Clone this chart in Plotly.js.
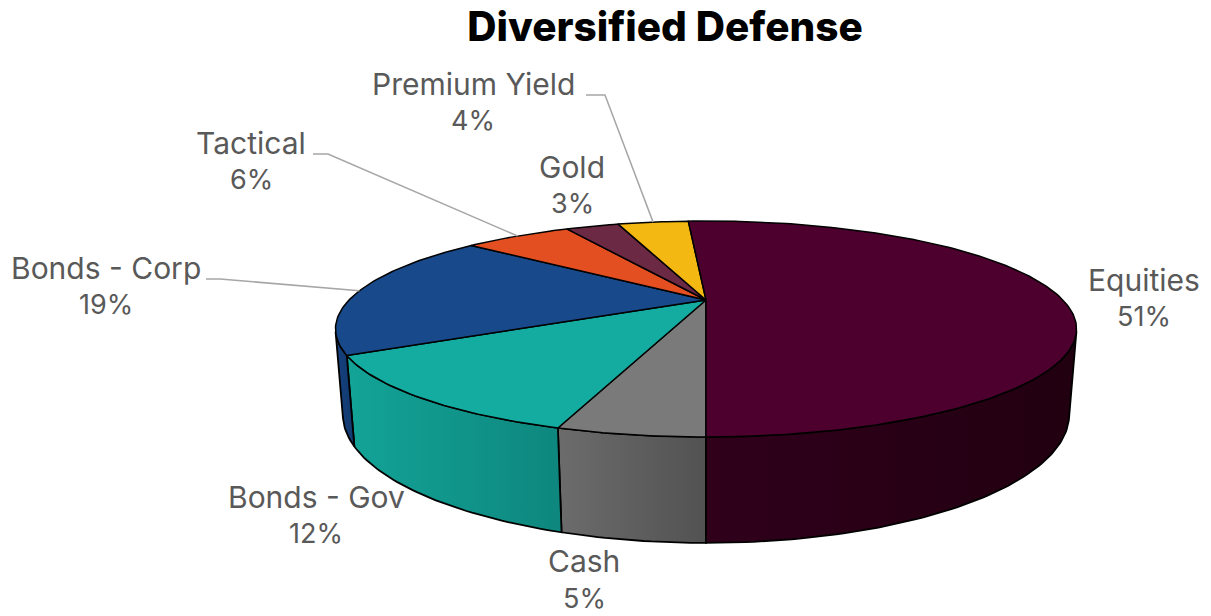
<!DOCTYPE html>
<html>
<head>
<meta charset="utf-8">
<script src="https://cdn.plot.ly/plotly-3.0.1.min.js"></script>
<style>html,body{margin:0;padding:0;background:#fff}#chart{width:1211px;height:616px}</style>
</head>
<body>
<div id="chart"></div>
<script>
// Allocation shares, clockwise from the front of the pie.
const categories = ['Cash', 'Bonds - Gov', 'Bonds - Corp', 'Tactical', 'Gold', 'Premium Yield', 'Equities'];
const shares = [5, 12, 19, 6, 3, 4, 51];

const topColors = ['#7a7a7a', '#14aca0', '#18498a', '#e44f22', '#6b2944', '#f3b812', '#4d002e'];
const wallLeft = ['#6c6c6c', '#13a397', '#15407c', '#c9441d', '#5c2339', '#d6a20f', '#30001b'];
const wallRight = ['#525252', '#0e877e', '#123a70', '#c9441d', '#5c2339', '#d6a20f', '#210010'];

// Label name and percentage baselines, and leader elbows, in plot units.
const labelX = [584, 316, 106, 251, 572, 473, 1144];
const nameY = [561, 497, 268, 143, 167, 84, 280];
const pctY = [598, 533, 304, 179, 203, 120, 316];
const leaderFrom = [null, null, [206, 279], [313, 154], null, [586, 95], null];
const leaderElbow = [null, null, [220, 279], [328, 154], null, [605, 95], null];

// Pinhole camera looking down on a unit-radius disc.
const CX = 706, CY = 300, FOCAL = 1276, DIST = 3.575, SIN_E = 0.2807, COS_E = 0.9598, THICK = 0.2396;

function project(angle, z, r) {
  const s = -Math.sin(angle) * r, t = Math.cos(angle) * r;
  const w = DIST - t * COS_E + z * SIN_E;
  return [CX + FOCAL * s / w, CY + FOCAL * (t * SIN_E + z * COS_E) / w];
}

// The wall is only seen where its outward normal faces the camera.
const VISIBLE = Math.acos(1 / (DIST * COS_E));
const TOTAL = shares.reduce((a, b) => a + b, 0);
const toAngle = c => c / TOTAL * 2 * Math.PI;

function arc(a0, a1, z) {
  const n = Math.max(2, Math.ceil(Math.abs(a1 - a0) * 60));
  const pts = [];
  for (let i = 0; i <= n; i++) pts.push(project(a0 + (a1 - a0) * i / n, z, 1));
  return pts;
}

function wallTrace(w0, w1, i) {
  const ring = arc(w0, w1, 0).concat(arc(w1, w0, THICK));
  ring.push(ring[0]);
  return {
    type: 'scatter', mode: 'lines', fill: 'toself',
    x: ring.map(p => p[0]), y: ring.map(p => p[1]),
    line: {color: '#000000', width: 1.8},
    fillgradient: {type: 'horizontal', colorscale: [[0, wallLeft[i]], [1, wallRight[i]]]},
    hoverinfo: 'skip', showlegend: false
  };
}

const traces = [];
const tops = [];
const mids = [];
let cum = 0;
shares.forEach((v, i) => {
  const a0 = toAngle(cum), a1 = toAngle(cum + v);
  cum += v;
  mids.push((a0 + a1) / 2);

  // A slice may show wall on the left run of angles, or one turn earlier on the right.
  [0, -2 * Math.PI].forEach(turn => {
    const w0 = Math.max(a0 + turn, -VISIBLE), w1 = Math.min(a1 + turn, VISIBLE);
    if (w1 > w0) traces.push(wallTrace(w0, w1, i));
  });

  // Top face of the slice.
  const apex = project(0, 0, 0);
  const poly = [apex].concat(arc(a0, a1, 0), [apex]);
  tops.push({
    type: 'scatter', mode: 'lines', fill: 'toself', fillcolor: topColors[i],
    x: poly.map(p => p[0]), y: poly.map(p => p[1]),
    line: {color: '#000000', width: 1.5},
    name: categories[i], text: v + '%', hoverinfo: 'name+text', showlegend: false
  });
});
traces.push(...tops);

// Leader lines run from the label to the rim at the middle of the slice.
categories.forEach((c, i) => {
  if (!leaderFrom[i]) return;
  const end = project(mids[i], 0, 1);
  traces.push({
    type: 'scatter', mode: 'lines',
    x: [leaderFrom[i][0], leaderElbow[i][0], end[0]],
    y: [leaderFrom[i][1], leaderElbow[i][1], end[1]],
    line: {color: '#a6a6a6', width: 1.5},
    hoverinfo: 'skip', showlegend: false
  });
});

const LABEL_FONT = 'Inter, "Open Sans", sans-serif';
const annotations = [];
categories.forEach((c, i) => {
  annotations.push({
    x: labelX[i], y: nameY[i], xref: 'x', yref: 'y', text: c,
    showarrow: false, xanchor: 'center', yanchor: 'middle',
    font: {family: LABEL_FONT, size: 30, color: '#595959'}
  });
  annotations.push({
    x: labelX[i], y: pctY[i], xref: 'x', yref: 'y', text: shares[i] + '%',
    showarrow: false, xanchor: 'center', yanchor: 'middle',
    font: {family: LABEL_FONT, size: 27, color: '#595959'}
  });
});

const layout = {
  width: 1211, height: 616,
  margin: {l: 0, r: 0, t: 0, b: 0},
  paper_bgcolor: '#ffffff', plot_bgcolor: '#ffffff',
  title: {
    text: 'Diversified Defense',
    x: 665 / 1211, xanchor: 'center', y: 1 - 27 / 616, yanchor: 'middle',
    font: {family: LABEL_FONT, size: 40.5, color: '#000000', weight: 800}
  },
  xaxis: {range: [0, 1211], visible: false, fixedrange: true},
  yaxis: {range: [616, 0], visible: false, fixedrange: true},
  annotations: annotations,
  showlegend: false
};

Plotly.newPlot('chart', traces, layout, {displayModeBar: false, responsive: false});
</script>
</body>
</html>
